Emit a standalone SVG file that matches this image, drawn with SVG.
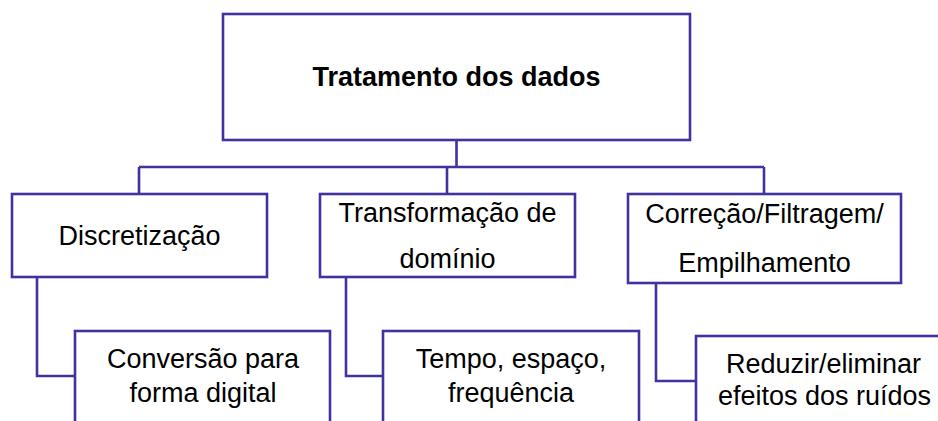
<svg xmlns="http://www.w3.org/2000/svg" width="938" height="421" viewBox="0 0 938 421">
<style>
.box{fill:#fff;stroke:#4032A0;stroke-width:2.6}
.conn{fill:none;stroke:#4032A0;stroke-width:2.6}
text{font-family:"Liberation Sans",Arial,sans-serif;font-size:27px;fill:#000;text-anchor:middle}
.b{font-weight:bold}
</style>
<rect width="938" height="421" fill="#fff"/>
<g id="connectors">
<path class="conn" d="M456.5 140V167M139 167H764M139 167V194M447 167V194M764 167V194"/>
<path class="conn" d="M37 277V376H75"/>
<path class="conn" d="M346 277V376H383"/>
<path class="conn" d="M656 283V381H696"/>
</g>
<g id="root">
<rect class="box" x="223" y="14" width="467" height="126"/>
<text class="b" x="456.5" y="86">Tratamento dos dados</text>
</g>
<g id="discretizacao">
<rect class="box" x="12" y="194" width="255" height="83"/>
<text x="139.5" y="245">Discretização</text>
</g>
<g id="transformacao">
<rect class="box" x="320" y="194" width="255" height="83"/>
<text x="447.5" y="222">Transformação de</text>
<text x="447.5" y="268">domínio</text>
</g>
<g id="correcao">
<rect class="box" x="628" y="194" width="273" height="89"/>
<text x="764.5" y="223">Correção/Filtragem/</text>
<text x="764.5" y="272">Empilhamento</text>
</g>
<g id="conversao">
<rect class="box" x="75" y="331" width="255" height="110"/>
<text x="203" y="368">Conversão para</text>
<text x="203" y="402">forma digital</text>
</g>
<g id="tempo">
<rect class="box" x="383" y="331" width="256" height="110"/>
<text x="511" y="368">Tempo, espaço,</text>
<text x="511" y="402">frequência</text>
</g>
<g id="reduzir">
<rect class="box" x="696" y="336" width="256" height="110"/>
<text x="823.5" y="373">Reduzir/eliminar</text>
<text x="824.5" y="405">efeitos dos ruídos</text>
</g>
</svg>
